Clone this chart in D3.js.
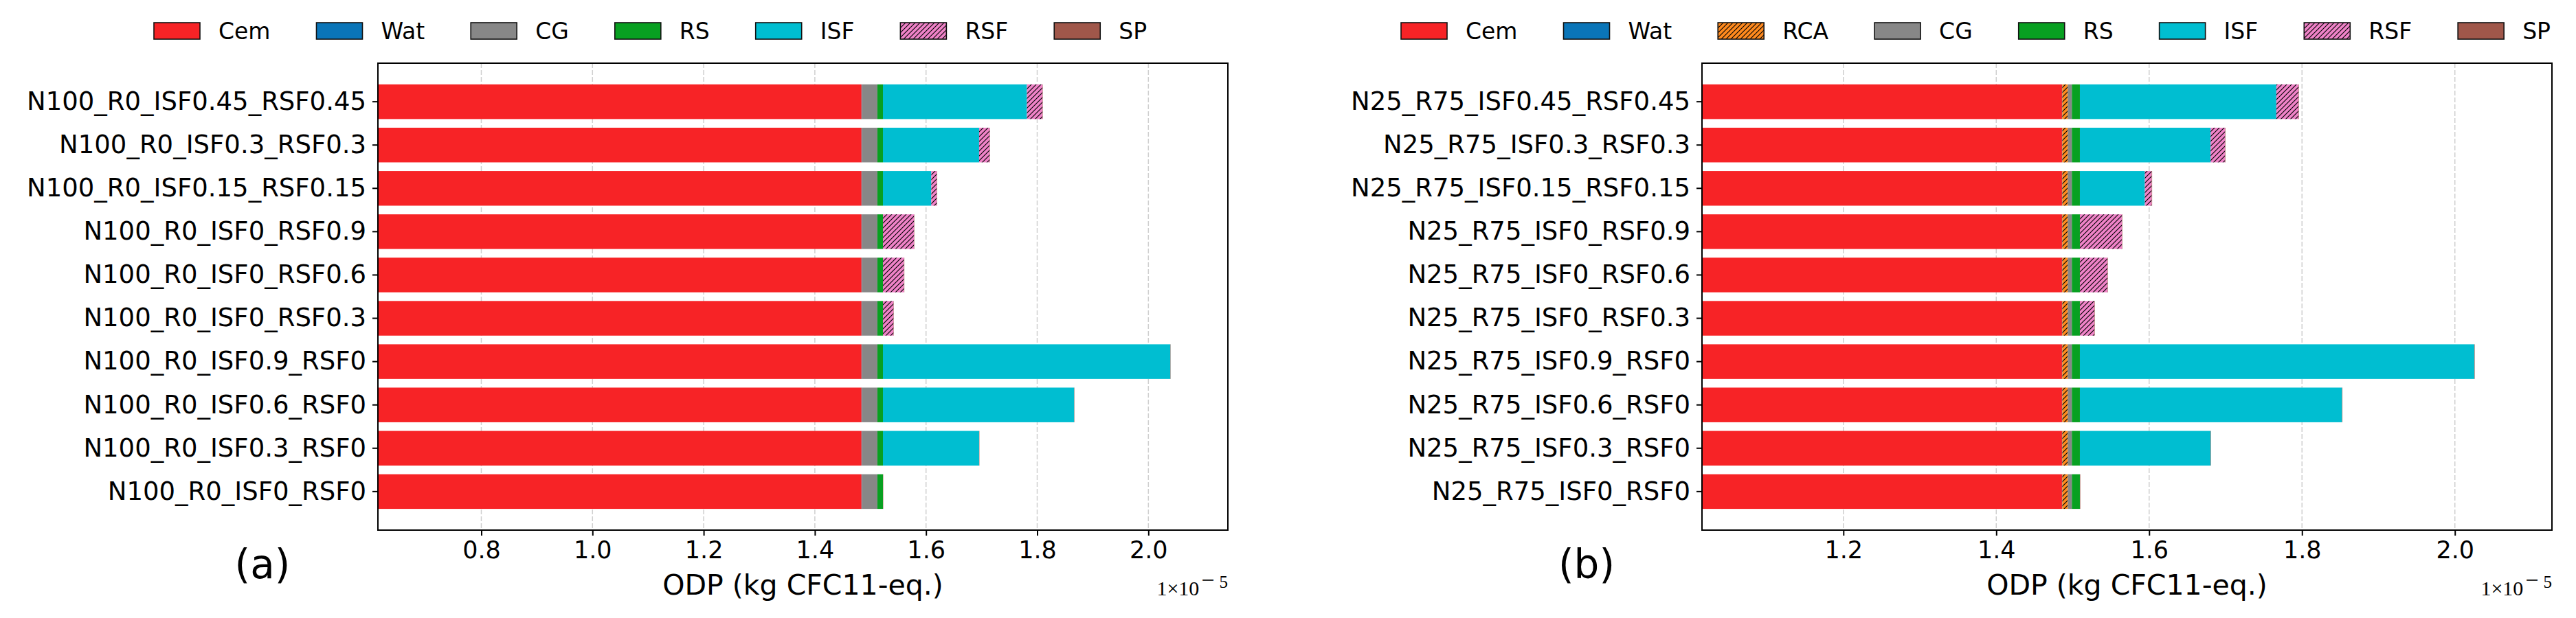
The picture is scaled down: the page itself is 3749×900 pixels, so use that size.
<!DOCTYPE html>
<html>
<head>
<meta charset="utf-8">
<script src="https://cdn.jsdelivr.net/npm/d3@7"></script>
<style>
  body { margin: 0; background: #fff; }
  svg { display: block; }
</style>
</head>
<body>
<svg id="chart" width="3749" height="900"></svg>
<script>
// ---- data (values in units of 1e-5 kg CFC11-eq.) ----
const categoriesA = [
  "N100_R0_ISF0.45_RSF0.45", "N100_R0_ISF0.3_RSF0.3", "N100_R0_ISF0.15_RSF0.15",
  "N100_R0_ISF0_RSF0.9", "N100_R0_ISF0_RSF0.6", "N100_R0_ISF0_RSF0.3",
  "N100_R0_ISF0.9_RSF0", "N100_R0_ISF0.6_RSF0", "N100_R0_ISF0.3_RSF0", "N100_R0_ISF0_RSF0"
];
const categoriesB = [
  "N25_R75_ISF0.45_RSF0.45", "N25_R75_ISF0.3_RSF0.3", "N25_R75_ISF0.15_RSF0.15",
  "N25_R75_ISF0_RSF0.9", "N25_R75_ISF0_RSF0.6", "N25_R75_ISF0_RSF0.3",
  "N25_R75_ISF0.9_RSF0", "N25_R75_ISF0.6_RSF0", "N25_R75_ISF0.3_RSF0", "N25_R75_ISF0_RSF0"
];

const legendA = ["Cem", "Wat", "CG", "RS", "ISF", "RSF", "SP"];
const legendB = ["Cem", "Wat", "RCA", "CG", "RS", "ISF", "RSF", "SP"];

// panel (a)
const cemA = [1.484, 1.484, 1.484, 1.484, 1.484, 1.484, 1.484, 1.484, 1.484, 1.484];
const watA = [0.0005, 0.0005, 0.0005, 0.0005, 0.0005, 0.0005, 0.0005, 0.0005, 0.0005, 0.0005];
const cgA  = [0.028, 0.028, 0.028, 0.028, 0.028, 0.028, 0.028, 0.028, 0.028, 0.028];
const rsA  = [0.0100, 0.0100, 0.0100, 0.0100, 0.0100, 0.0100, 0.0100, 0.0100, 0.0100, 0.0100];
const isfA = [0.259, 0.173, 0.087, 0, 0, 0, 0.517, 0.344, 0.173, 0];
const rsfA = [0.028, 0.019, 0.010, 0.056, 0.038, 0.019, 0, 0, 0, 0];
const spA  = [0.0005, 0.0005, 0.0005, 0.0005, 0.0005, 0.0005, 0.0005, 0.0005, 0.0005, 0.0005];

// panel (b)
const cemB = [1.486, 1.486, 1.486, 1.486, 1.486, 1.486, 1.486, 1.486, 1.486, 1.486];
const watB = [0.0004, 0.0004, 0.0004, 0.0004, 0.0004, 0.0004, 0.0004, 0.0004, 0.0004, 0.0004];
const rcaB = [0.0072, 0.0072, 0.0072, 0.0072, 0.0072, 0.0072, 0.0072, 0.0072, 0.0072, 0.0072];
const cgB  = [0.0053, 0.0053, 0.0053, 0.0053, 0.0053, 0.0053, 0.0053, 0.0053, 0.0053, 0.0053];
const rsB  = [0.0105, 0.0105, 0.0105, 0.0105, 0.0105, 0.0105, 0.0105, 0.0105, 0.0105, 0.0105];
const isfB = [0.257, 0.171, 0.085, 0, 0, 0, 0.516, 0.343, 0.171, 0];
const rsfB = [0.029, 0.019, 0.009, 0.055, 0.036, 0.019, 0, 0, 0, 0];
const spB  = [0.0005, 0.0005, 0.0005, 0.0005, 0.0005, 0.0005, 0.0005, 0.0005, 0.0005, 0.0005];

const xTicksA = [0.8, 1.0, 1.2, 1.4, 1.6, 1.8, 2.0];
const xTicksB = [1.2, 1.4, 1.6, 1.8, 2.0];
const xDomainA = [0.614, 2.143];
const xDomainB = [1.015, 2.127];

// ---- styles ----
const colors = {
  Cem: "#f72326", Wat: "#0a75b8", RCA: "#ff8a1e", CG: "#878787",
  RS: "#08a021", ISF: "#00bed1", RSF: "#f083c8", SP: "#a0574a"
};
const hatched = new Set(["RCA", "RSF"]);
const FONT = "'DejaVu Sans', sans-serif";

const svg = d3.select("#chart");
svg.append("rect").attr("width", 3749).attr("height", 900).attr("fill", "#fff");

// hatch patterns
const defs = svg.append("defs");
hatched.forEach(k => {
  const p = defs.append("pattern")
    .attr("id", "hatch-" + k)
    .attr("patternUnits", "userSpaceOnUse")
    .attr("width", 7).attr("height", 7);
  p.append("rect").attr("width", 7).attr("height", 7).attr("fill", colors[k]);
  p.append("path")
    .attr("d", "M-1,1 L1,-1 M0,7 L7,0 M6,8 L8,6")
    .attr("stroke", "#000").attr("stroke-width", 1.1);
});
const fillOf = k => hatched.has(k) ? `url(#hatch-${k})` : colors[k];

function panel(opts) {
  const { left, right, top, bottom, categories, keys, columns, xDomain, xTicks,
          legendX, tag, tagX } = opts;

  const rows = categories.map((c, i) => {
    const r = { cat: c };
    keys.forEach((k, j) => { r[k] = columns[j][i]; });
    return r;
  });

  const x = d3.scaleLinear().domain(xDomain).range([left, right]);
  const y = d3.scaleBand().domain(categories).range([top, bottom])
    .paddingInner(0.2).paddingOuter(0.49);

  const g = svg.append("g");

  // grid
  g.append("g").selectAll("line").data(xTicks).join("line")
    .attr("x1", d => x(d)).attr("x2", d => x(d))
    .attr("y1", top).attr("y2", bottom)
    .attr("stroke", "#cfcfcf").attr("stroke-width", 1.5)
    .attr("stroke-dasharray", "7,3");

  // stacked bars, starting at zero, clipped to plot area
  const clipId = "clip-" + tag.replace(/\W/g, "");
  defs.append("clipPath").attr("id", clipId)
    .append("rect").attr("x", left).attr("y", top)
    .attr("width", right - left).attr("height", bottom - top);

  const stacked = d3.stack().keys(keys)(rows);
  g.append("g").attr("clip-path", `url(#${clipId})`)
    .selectAll("g").data(stacked).join("g")
    .attr("fill", d => fillOf(d.key))
    .selectAll("rect").data(d => d).join("rect")
    .attr("x", d => x(d[0]))
    .attr("width", d => Math.max(0, x(d[1]) - x(d[0])))
    .attr("y", d => y(d.data.cat))
    .attr("height", y.bandwidth());

  // axes
  const xAxis = g.append("g").attr("transform", `translate(0,${bottom})`)
    .call(d3.axisBottom(x).tickValues(xTicks).tickFormat(d3.format(".1f"))
      .tickSize(8).tickPadding(8).tickSizeOuter(0));
  xAxis.select(".domain").remove();
  xAxis.selectAll("line").attr("stroke", "#000").attr("stroke-width", 2);
  xAxis.selectAll("text").attr("font-family", FONT).attr("font-size", 35)
    .attr("fill", "#000").attr("dy", "0.72em");

  const yAxis = g.append("g").attr("transform", `translate(${left},0)`)
    .call(d3.axisLeft(y).tickSize(8).tickPadding(9).tickSizeOuter(0));
  yAxis.select(".domain").remove();
  yAxis.selectAll("line").attr("stroke", "#000").attr("stroke-width", 2);
  yAxis.selectAll("text").attr("font-family", FONT).attr("font-size", 37)
    .attr("fill", "#000");

  // frame
  g.append("rect").attr("x", left).attr("y", top)
    .attr("width", right - left).attr("height", bottom - top)
    .attr("fill", "none").attr("stroke", "#000").attr("stroke-width", 2);

  // x label
  g.append("text").attr("x", (left + right) / 2).attr("y", 866)
    .attr("text-anchor", "middle").attr("font-family", FONT).attr("font-size", 41)
    .text("ODP (kg CFC11-eq.)");

  // offset text
  const off = g.append("text").attr("x", right).attr("y", 867)
    .attr("text-anchor", "end").attr("font-family", "'Liberation Serif', serif");
  off.append("tspan").attr("font-size", 30).text("1×10");
  off.append("tspan").attr("font-size", 34).attr("dy", -11).attr("dx", 3).text("−");
  off.append("tspan").attr("font-size", 25).attr("dx", 7).text("5");

  // panel tag
  g.append("text").attr("x", tagX).attr("y", 842).attr("text-anchor", "middle")
    .attr("font-family", FONT).attr("font-size", 58).text(tag);

  // legend
  let lx = legendX;
  keys.forEach(k => {
    g.append("rect").attr("x", lx).attr("y", 33).attr("width", 67).attr("height", 24)
      .attr("fill", fillOf(k)).attr("stroke", "#111").attr("stroke-width", 1.6);
    const t = g.append("text").attr("x", lx + 67 + 27).attr("y", 57)
      .attr("font-family", FONT).attr("font-size", 33).text(k);
    lx += 67 + 27 + t.node().getComputedTextLength() + 67;
  });
}

panel({
  left: 550, right: 1787, top: 92, bottom: 772,
  categories: categoriesA, keys: legendA,
  columns: [cemA, watA, cgA, rsA, isfA, rsfA, spA],
  xDomain: xDomainA, xTicks: xTicksA,
  legendX: 224, tag: "(a)", tagX: 382
});

panel({
  left: 2477, right: 3714, top: 92, bottom: 772,
  categories: categoriesB, keys: legendB,
  columns: [cemB, watB, rcaB, cgB, rsB, isfB, rsfB, spB],
  xDomain: xDomainB, xTicks: xTicksB,
  legendX: 2039, tag: "(b)", tagX: 2309
});
</script>
</body>
</html>
